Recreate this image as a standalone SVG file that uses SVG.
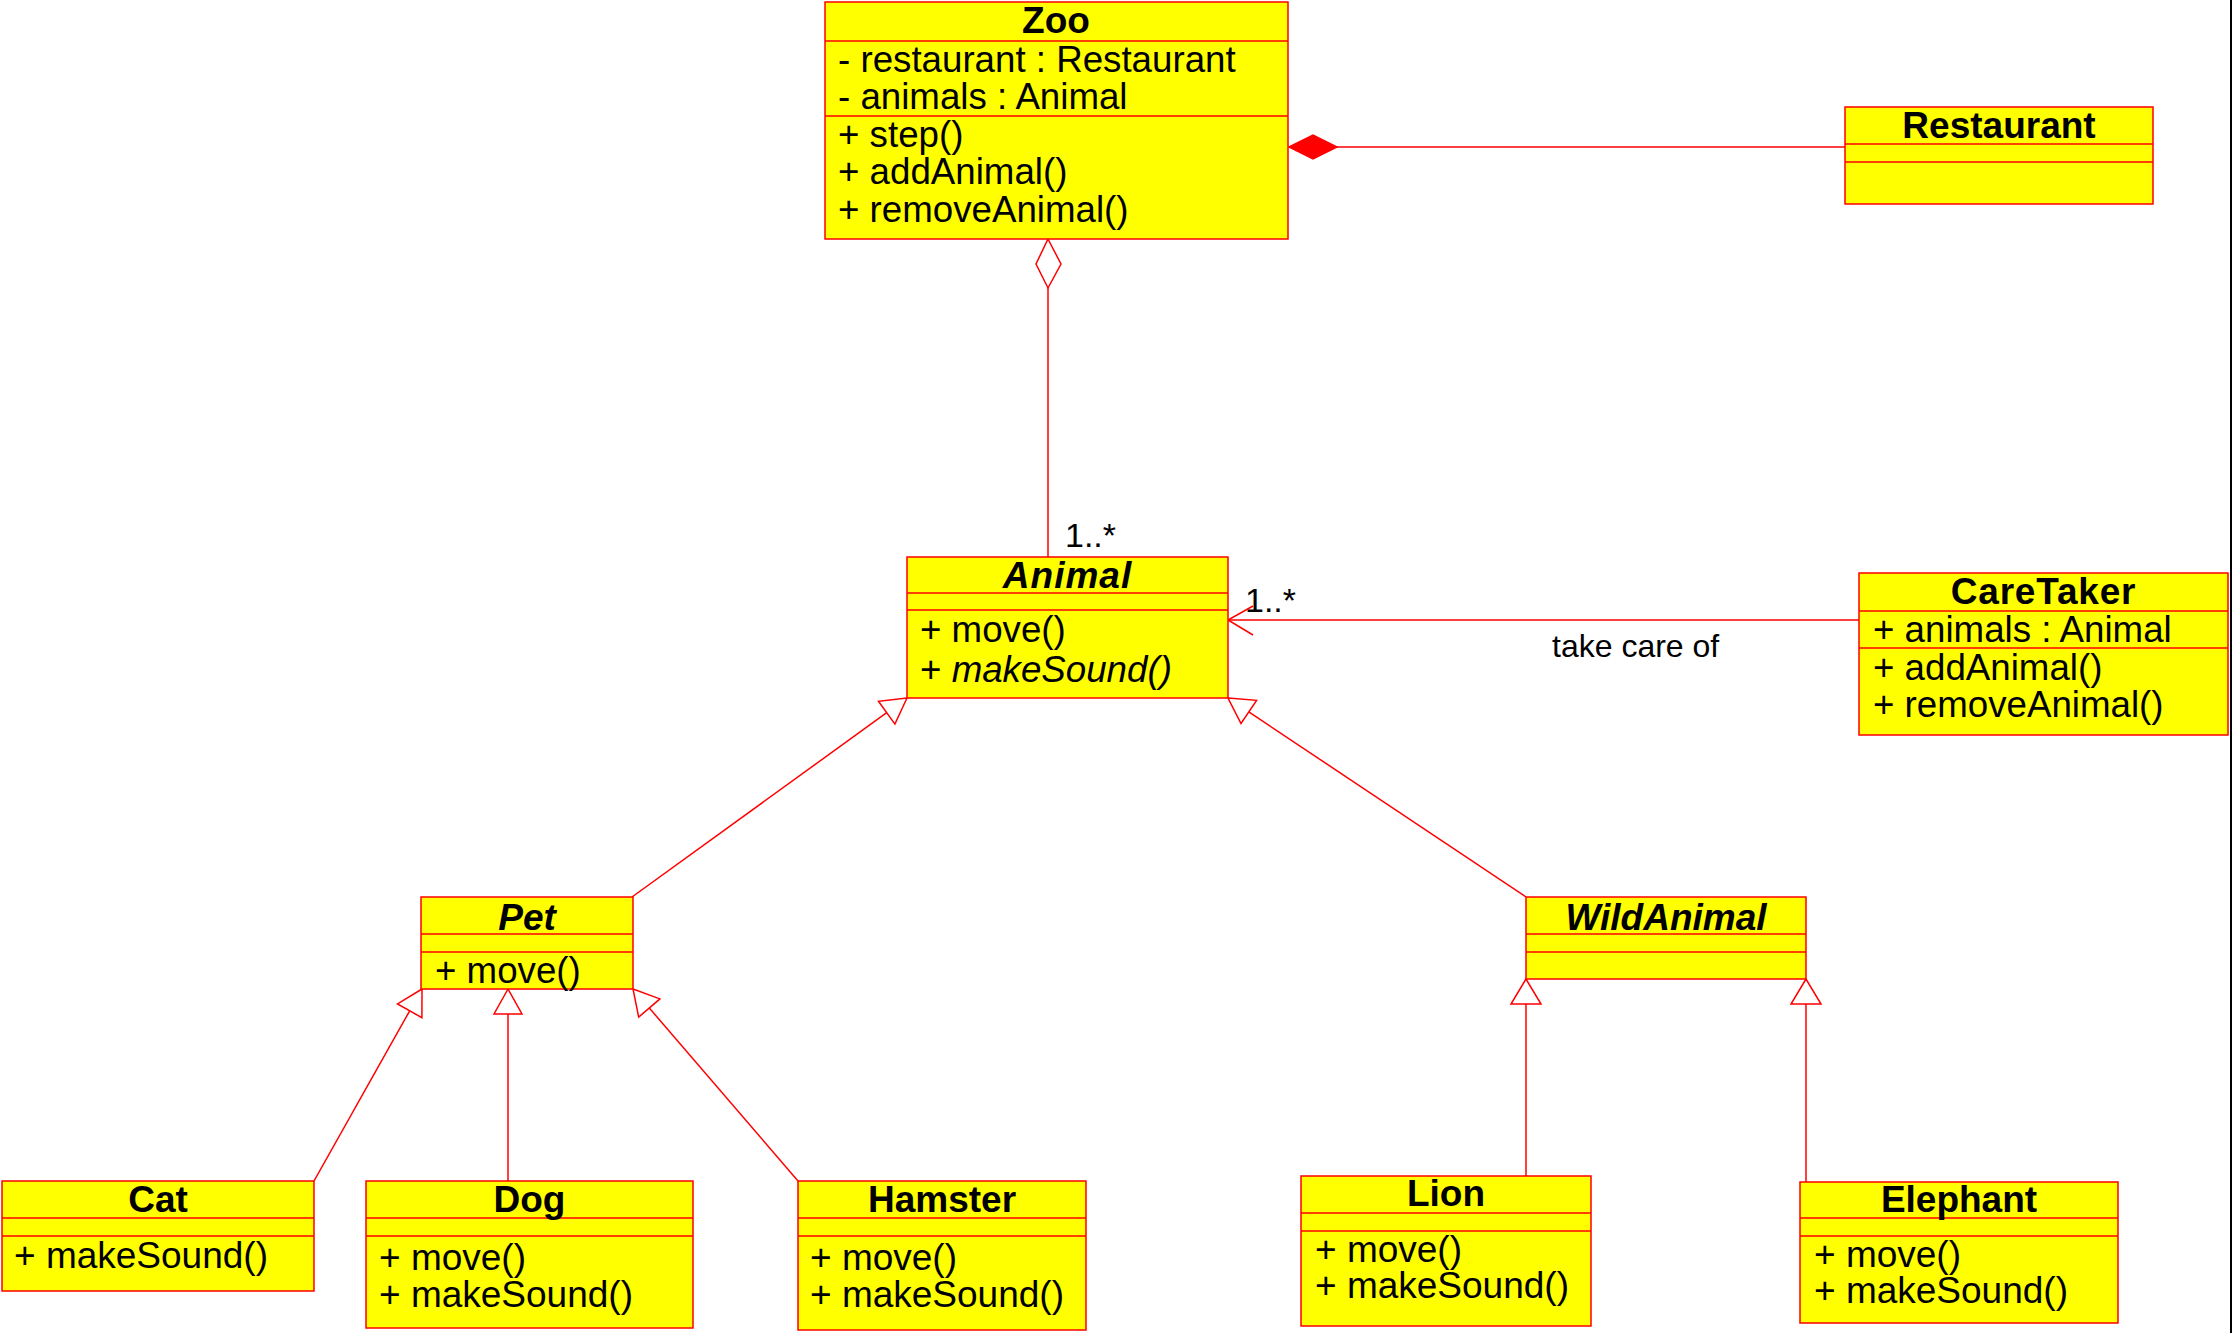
<svg xmlns="http://www.w3.org/2000/svg" width="2233" height="1333" viewBox="0 0 2233 1333">
  <style>
    .box { fill: #ffff00; stroke: #ff0000; stroke-width: 1.5; }
    .div { stroke: #ff0000; stroke-width: 1.5; fill: none; }
    .title { font-family: "Liberation Sans", Arial, sans-serif; font-size: 37px; font-weight: bold; text-anchor: middle; fill: #000; }
    .abstract { font-style: italic; }
    .mem { font-family: "Liberation Sans", Arial, sans-serif; font-size: 36.7px; fill: #000; }
    .mem-s { font-family: "Liberation Sans", Arial, sans-serif; font-size: 37px; fill: #000; }
    .lbl { font-family: "Liberation Sans", Arial, sans-serif; font-size: 32px; fill: #000; }
    .mult { font-family: "Liberation Sans", Arial, sans-serif; font-size: 34px; fill: #000; }
    .edge { stroke: #ff0000; stroke-width: 1.5; fill: none; }
    .hollow { stroke: #ff0000; stroke-width: 1.5; fill: #ffffff; }
    .solid { stroke: #ff0000; stroke-width: 1.5; fill: #ff0000; }
  </style>
  <rect width="2233" height="1333" fill="#ffffff"/>

  <!-- connectors -->
  <g id="connectors">
    <!-- Zoo composed of Restaurant -->
    <line class="edge" x1="1337" y1="147" x2="1845" y2="147"/>
    <polygon class="solid" points="1289,147 1313,135 1337,147 1313,159"/>
    <!-- Zoo aggregates Animal -->
    <polygon class="hollow" points="1048,239 1061,264 1048,288 1036,264"/>
    <line class="edge" x1="1048" y1="288" x2="1048" y2="557"/>
    <text class="mult" x="1065" y="547">1..*</text>
    <!-- CareTaker takes care of Animal -->
    <line class="edge" x1="1228" y1="620" x2="1859" y2="620"/>
    <polyline class="edge" points="1253,606 1228,620 1253,635"/>
    <text class="mult" x="1245" y="612">1..*</text>
    <text class="lbl" x="1552" y="657">take care of</text>
    <!-- Pet extends Animal -->
    <line class="edge" x1="886.7" y1="712.7" x2="632" y2="897"/>
    <polygon class="hollow" points="907,698 878.5,701.3 894.9,724.1"/>
    <!-- WildAnimal extends Animal -->
    <line class="edge" x1="1248.8" y1="711.9" x2="1526" y2="897"/>
    <polygon class="hollow" points="1228,698 1256.6,700.3 1241,723.5"/>
    <!-- Cat / Dog / Hamster extend Pet -->
    <line class="edge" x1="409.7" y1="1010.8" x2="314" y2="1181"/>
    <polygon class="hollow" points="422,989 397.5,1003.9 421.9,1017.7"/>
    <line class="edge" x1="508" y1="1014" x2="508" y2="1181"/>
    <polygon class="hollow" points="508,989 494,1014 522,1014"/>
    <line class="edge" x1="649.3" y1="1008" x2="798" y2="1181"/>
    <polygon class="hollow" points="633,989 659.9,998.9 638.7,1017.1"/>
    <!-- Lion / Elephant extend WildAnimal -->
    <line class="edge" x1="1526" y1="1004" x2="1526" y2="1176"/>
    <polygon class="hollow" points="1526,979 1511,1004 1541,1004"/>
    <line class="edge" x1="1806" y1="1004" x2="1806" y2="1182"/>
    <polygon class="hollow" points="1806,979 1791,1004 1821,1004"/>
  </g>

  <g id="Zoo">
    <rect class="box" x="825" y="2" width="463" height="237"/>
    <line class="div" x1="825" y1="41" x2="1288" y2="41"/>
    <line class="div" x1="825" y1="116" x2="1288" y2="116"/>
    <text class="title" x="1056" y="33">Zoo</text>
    <text class="mem" x="838" y="72">- restaurant : Restaurant</text>
    <text class="mem" x="838" y="109">- animals : Animal</text>
    <text class="mem" x="838" y="147">+ step()</text>
    <text class="mem" x="838" y="184">+ addAnimal()</text>
    <text class="mem" x="838" y="222">+ removeAnimal()</text>
  </g>

  <g id="Restaurant">
    <rect class="box" x="1845" y="107" width="308" height="97"/>
    <line class="div" x1="1845" y1="144" x2="2153" y2="144"/>
    <line class="div" x1="1845" y1="162" x2="2153" y2="162"/>
    <text class="title" x="1999" y="138">Restaurant</text>
  </g>

  <g id="Animal">
    <rect class="box" x="907" y="557" width="321" height="141"/>
    <line class="div" x1="907" y1="593" x2="1228" y2="593"/>
    <line class="div" x1="907" y1="610" x2="1228" y2="610"/>
    <text class="title abstract" x="1067.5" y="588" letter-spacing="1">Animal</text>
    <text class="mem" x="920" y="642">+ move()</text>
    <text class="mem" x="920" y="682">+ <tspan font-style="italic">makeSound()</tspan></text>
  </g>

  <g id="CareTaker">
    <rect class="box" x="1859" y="573" width="369" height="162"/>
    <line class="div" x1="1859" y1="611" x2="2228" y2="611"/>
    <line class="div" x1="1859" y1="648" x2="2228" y2="648"/>
    <text class="title" x="2043.5" y="604" letter-spacing="0.8">CareTaker</text>
    <text class="mem" x="1873" y="642">+ animals : Animal</text>
    <text class="mem" x="1873" y="680">+ addAnimal()</text>
    <text class="mem" x="1873" y="717">+ removeAnimal()</text>
  </g>

  <g id="Pet">
    <rect class="box" x="421" y="897" width="212" height="92"/>
    <line class="div" x1="421" y1="934" x2="633" y2="934"/>
    <line class="div" x1="421" y1="952" x2="633" y2="952"/>
    <text class="title abstract" x="527" y="930">Pet</text>
    <text class="mem" x="435" y="983">+ move()</text>
  </g>

  <g id="WildAnimal">
    <rect class="box" x="1526" y="897" width="280" height="82"/>
    <line class="div" x1="1526" y1="934" x2="1806" y2="934"/>
    <line class="div" x1="1526" y1="952" x2="1806" y2="952"/>
    <text class="title abstract" x="1666" y="930">WildAnimal</text>
  </g>

  <g id="Cat">
    <rect class="box" x="2" y="1181" width="312" height="110"/>
    <line class="div" x1="2" y1="1218" x2="314" y2="1218"/>
    <line class="div" x1="2" y1="1236" x2="314" y2="1236"/>
    <text class="title" x="158" y="1212">Cat</text>
    <text class="mem-s" x="14" y="1268">+ makeSound()</text>
  </g>

  <g id="Dog">
    <rect class="box" x="366" y="1181" width="327" height="147"/>
    <line class="div" x1="366" y1="1218" x2="693" y2="1218"/>
    <line class="div" x1="366" y1="1236" x2="693" y2="1236"/>
    <text class="title" x="529.5" y="1212">Dog</text>
    <text class="mem-s" x="379" y="1270">+ move()</text>
    <text class="mem-s" x="379" y="1307">+ makeSound()</text>
  </g>

  <g id="Hamster">
    <rect class="box" x="798" y="1181" width="288" height="149"/>
    <line class="div" x1="798" y1="1218" x2="1086" y2="1218"/>
    <line class="div" x1="798" y1="1236" x2="1086" y2="1236"/>
    <text class="title" x="942" y="1212">Hamster</text>
    <text class="mem-s" x="810" y="1270">+ move()</text>
    <text class="mem-s" x="810" y="1307">+ makeSound()</text>
  </g>

  <g id="Lion">
    <rect class="box" x="1301" y="1176" width="290" height="150"/>
    <line class="div" x1="1301" y1="1213" x2="1591" y2="1213"/>
    <line class="div" x1="1301" y1="1231" x2="1591" y2="1231"/>
    <text class="title" x="1446" y="1206">Lion</text>
    <text class="mem-s" x="1315" y="1262">+ move()</text>
    <text class="mem-s" x="1315" y="1298">+ makeSound()</text>
  </g>

  <g id="Elephant">
    <rect class="box" x="1800" y="1182" width="318" height="141"/>
    <line class="div" x1="1800" y1="1218" x2="2118" y2="1218"/>
    <line class="div" x1="1800" y1="1236" x2="2118" y2="1236"/>
    <text class="title" x="1959" y="1212">Elephant</text>
    <text class="mem-s" x="1814" y="1267">+ move()</text>
    <text class="mem-s" x="1814" y="1303">+ makeSound()</text>
  </g>

  <!-- frame edge on the right -->
  <line x1="2231" y1="0" x2="2231" y2="1333" stroke="#000000" stroke-width="2"/>
</svg>
